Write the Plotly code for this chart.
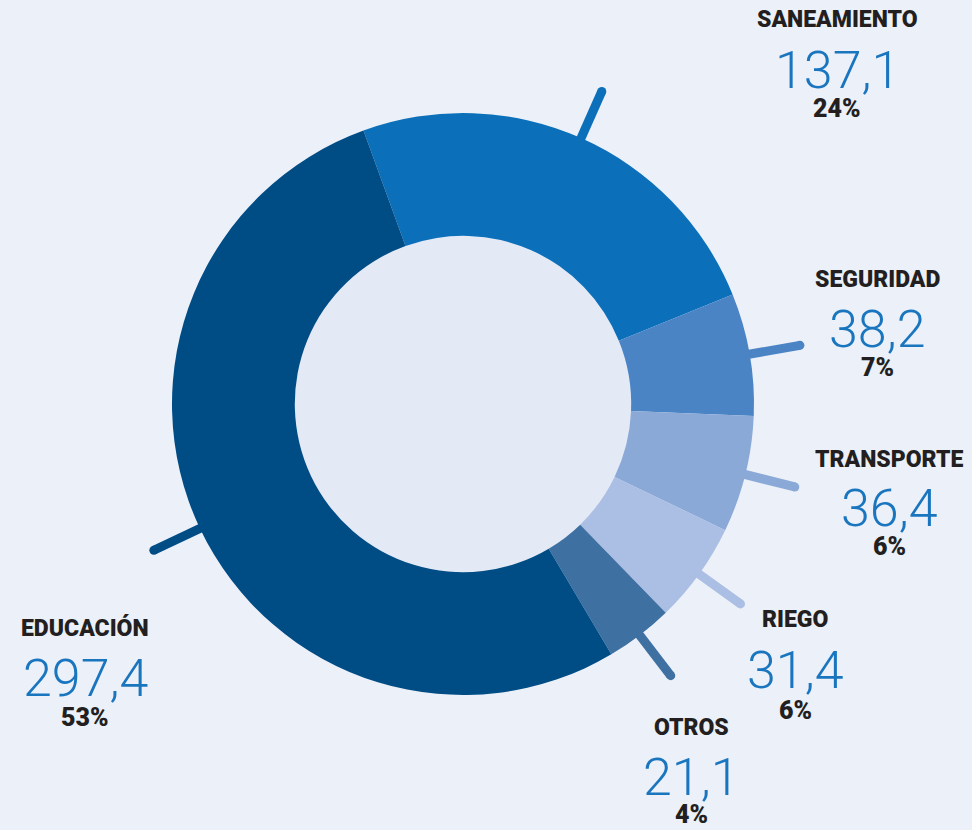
import math
import plotly.graph_objects as go

# ---- data ----
categories = ["SANEAMIENTO", "SEGURIDAD", "TRANSPORTE", "RIEGO", "OTROS", "EDUCACIÓN"]
values = [137.1, 38.2, 36.4, 31.4, 21.1, 297.4]

# ---- styling ----
colors = ["#0b70b9", "#4a84c5", "#8ba9d7", "#abbee3", "#3e70a2", "#004c85"]
BG = "#ebf0f9"
HOLE_BG = "#e3e9f5"
NUM_COLOR = "#1a75bf"
LBL_COLOR = "#231f20"

W, H = 972, 830
CX, CY, R = 463, 404, 291
HOLE = 0.578
ROTATION = -20  # degrees clockwise from 12 o'clock

# label anchor centres (px) for each category: (x, y_title, y_value, y_pct)
label_pos = [
    (837, 20, 71, 108),
    (877, 279, 329, 368),
    (889, 459, 508, 546),
    (795, 619, 670, 710),
    (691, 727, 777, 814),
    (85, 628, 678, 717),
]

total = sum(values)
value_text = [f"{v:.1f}".replace(".", ",") for v in values]
pct_text = [f"{round(v / total * 100)}%" for v in values]


def px(x):
    return x / W


def py(y):
    return 1 - y / H


fig = go.Figure()
fig.add_trace(go.Pie(
    labels=categories,
    values=values,
    sort=False,
    direction="clockwise",
    rotation=ROTATION,
    hole=HOLE,
    marker=dict(colors=colors, line=dict(width=0)),
    textinfo="none",
    hoverinfo="label+value+percent",
    showlegend=False,
    domain=dict(x=[px(CX - R), px(CX + R)], y=[py(CY + R), py(CY - R)]),
))

shapes = []
# hole fill
hr = R * HOLE + 3
shapes.append(dict(type="circle", xref="paper", yref="paper", layer="below",
                   x0=px(CX - hr), x1=px(CX + hr), y0=py(CY + hr), y1=py(CY - hr),
                   fillcolor=HOLE_BG, line=dict(width=0)))

# leader lines from slice mid-angles
cum = 0.0
LW = 9
for v, c in zip(values, colors):
    mid = ROTATION + (cum + v / 2) / total * 360
    cum += v
    a = math.radians(mid)
    r0, r1 = 240, 342
    x0, y0 = CX + r0 * math.sin(a), CY - r0 * math.cos(a)
    x1, y1 = CX + r1 * math.sin(a), CY - r1 * math.cos(a)
    shapes.append(dict(type="line", xref="paper", yref="paper", layer="below",
                       x0=px(x0), y0=py(y0), x1=px(x1), y1=py(y1),
                       line=dict(color=c, width=LW)))
    rr = LW / 2
    shapes.append(dict(type="circle", xref="paper", yref="paper", layer="below",
                       x0=px(x1 - rr), x1=px(x1 + rr), y0=py(y1 + rr), y1=py(y1 - rr),
                       fillcolor=c, line=dict(width=0)))

annotations = []
for cat, vt, pt, (lx, yt, yv, yp) in zip(categories, value_text, pct_text, label_pos):
    annotations.append(dict(x=px(lx), y=py(yt), xref="paper", yref="paper",
                            text=cat, showarrow=False, xanchor="center", yanchor="middle",
                            font=dict(family="Roboto", size=23, color=LBL_COLOR, weight=900)))
    annotations.append(dict(x=px(lx), y=py(yv), xref="paper", yref="paper",
                            text=vt, showarrow=False, xanchor="center", yanchor="middle",
                            font=dict(family="Roboto", size=52, color=NUM_COLOR, weight=300)))
    annotations.append(dict(x=px(lx), y=py(yp), xref="paper", yref="paper",
                            text=pt, showarrow=False, xanchor="center", yanchor="middle",
                            font=dict(family="Roboto", size=25, color=LBL_COLOR, weight=900)))

fig.update_layout(
    width=W, height=H,
    margin=dict(l=0, r=0, t=0, b=0),
    paper_bgcolor=BG, plot_bgcolor=BG,
    shapes=shapes, annotations=annotations,
)

fig.write_html(
    "out.html",
    config={"displayModeBar": False},
    post_script="document.body.style.margin='0';document.body.style.overflow='hidden';",
)
